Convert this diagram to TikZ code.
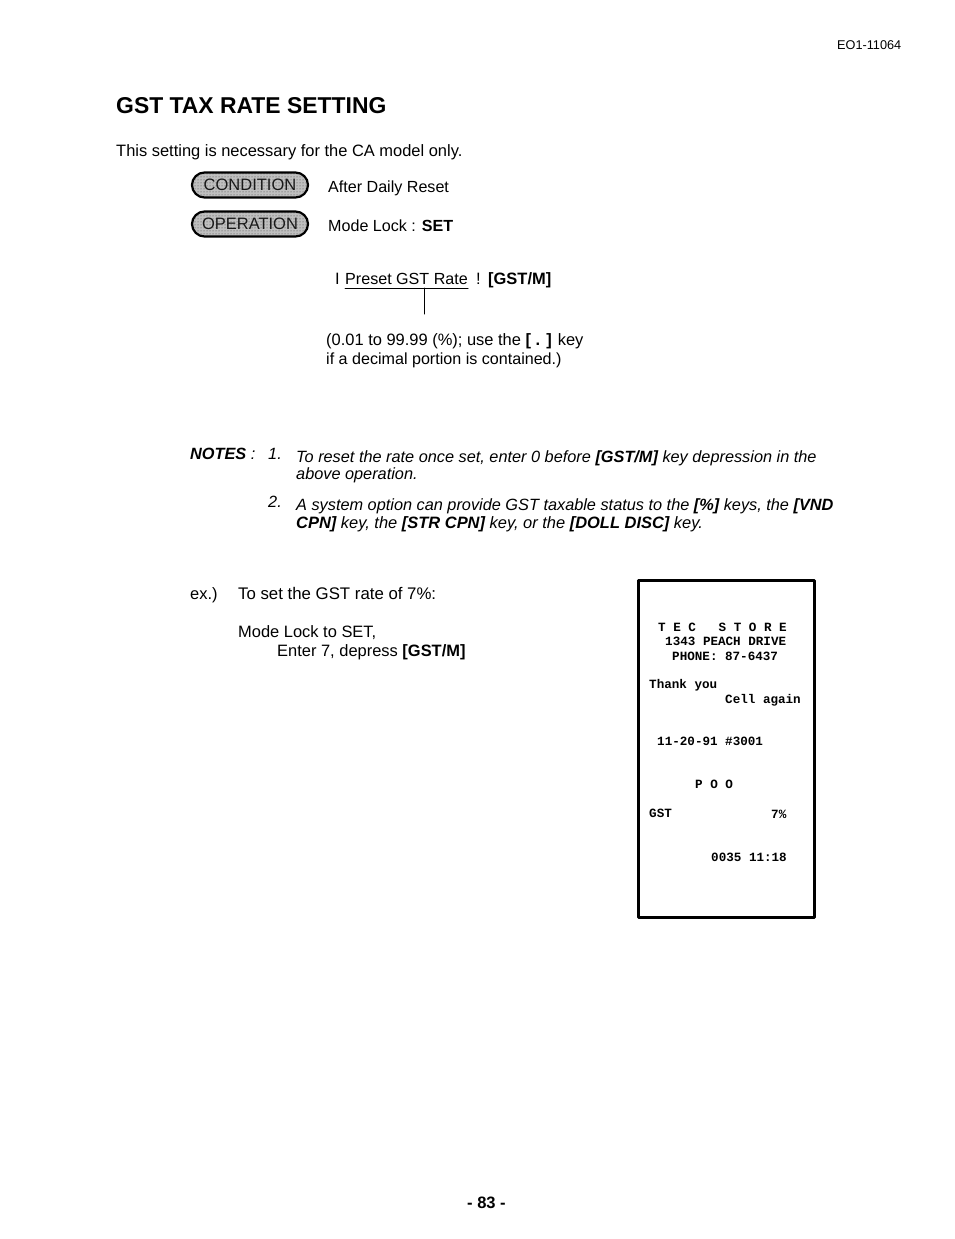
\documentclass[tikz,border=0pt]{standalone}
\usepackage{fontspec}
\setmainfont{Liberation Sans}
\setmonofont{Liberation Mono}
\usetikzlibrary{shapes.misc,patterns}
\tikzset{
	txt/.style={anchor=base west, inner sep=0pt, font=\fontsize{16.45}{19}\selectfont},
	slim/.style={txt, font=\fontsize{16.1}{19}\selectfont},
	note/.style={txt, font=\fontsize{16.3}{19}\selectfont\itshape},
	slip/.style={anchor=base west, inner sep=0pt, font=\fontsize{12.6}{15}\selectfont\ttfamily\bfseries},
	pill/.style={rounded rectangle, draw, line width=2.2pt, preaction={fill=black!25}, pattern=dots, pattern color=black!75, text=black!90, inner sep=0pt, minimum width=116pt, minimum height=25pt, font=\fontsize{16.5}{19}\selectfont}
}
\begin{document}
\begin{tikzpicture}[x=1pt, y=-1pt, line join=round, line cap=round]
	\useasboundingbox (0,0) rectangle (954,1239);
	\node[txt, font=\fontsize{12.7}{14}\selectfont] (docno) at (837,50) {EO1-11064};
	\node[txt, font=\fontsize{22.9}{28}\selectfont\bfseries] (title) at (116,113) {GST TAX RATE SETTING};
	\node[txt] (intro) at (116,156) {This setting is necessary for the CA model only.};
	\node[pill] (cond) at (250,185) {CONDITION};
	\node[pill] (oper) at (250,224) {OPERATION};
	\node[slim] (after) at (328,192) {After Daily Reset};
	\node[slim] (lock) at (328,231) {Mode Lock : \textbf{SET}};
	% key sequence
	\node[txt] (open) at (335,284) {I};
	\node[slim] (rate) at (345,284) {Preset GST Rate};
	\node[txt] (shut) at (476,284) {!};
	\node[txt] (key) at (488,284) {\textbf{[GST/M]}};
	\coordinate (stem) at (424,314);
	\draw[line width=1pt] (rate.base west) ++(0,4) -- ++(123,0);
	\draw[line width=1pt] (stem|-rate.base) ++(0,4) -- (stem);
	\node[txt] (range) at (326,345) {(0.01 to 99.99 (\%); use the \textbf{[ . ]} key};
	\node[slim] (dec) at (326,364) {if a decimal portion is contained.)};
	% notes
	\node[note] (notes) at (190,459) {\textbf{NOTES} :};
	\node[note] (one) at (268,459) {1.};
	\node[note] (n1a) at (296,462) {To reset the rate once set, enter 0 before \textbf{[GST/M]} key depression in the};
	\node[note] (n1b) at (296,479) {above operation.};
	\node[note] (two) at (268,507) {2.};
	\node[note] (n2a) at (296,510) {A system option can provide GST taxable status to the \textbf{[\%]} keys, the \textbf{[VND}};
	\node[note, font=\fontsize{16.45}{19}\selectfont\itshape] (n2b) at (296,528) {\textbf{CPN]} key, the \textbf{[STR CPN]} key, or the \textbf{[DOLL DISC]} key.};
	% example
	\node[txt] (ex) at (190,599) {ex.)};
	\node[txt, font=\fontsize{16.8}{19}\selectfont] (exa) at (238,599) {To set the GST rate of 7\%:};
	\node[txt] (exb) at (238,637) {Mode Lock to SET,};
	\node[txt] (exc) at (277,656) {Enter 7, depress \textbf{[GST/M]}};
	% receipt
	\node[draw, line width=3pt, minimum width=176pt, minimum height=337pt, inner sep=0pt] (receipt) at (726,748.5) {};
	\node[slip] (store) at (658,631) {T\ E\ C\ \ \ S\ T\ O\ R\ E};
	\node[slip] (addr) at (665,645) {1343 PEACH DRIVE};
	\node[slip] (phone) at (672,660) {PHONE: 87-6437};
	\node[slip] (thank) at (649,688) {Thank you};
	\node[slip] (again) at (725,703) {Cell again};
	\node[slip] (date) at (657,745) {11-20-91 \#3001};
	\node[slip] (poo) at (695,788) {P O O};
	\node[slip] (gst) at (649,817) {GST};
	\node[slip] (pct) at (771,818) {7\%};
	\node[slip] (time) at (711,861) {0035 11:18};
	\node[txt, font=\fontsize{16.5}{18}\selectfont\bfseries] (page) at (467,1208) {- 83 -};
\end{tikzpicture}
\end{document}
